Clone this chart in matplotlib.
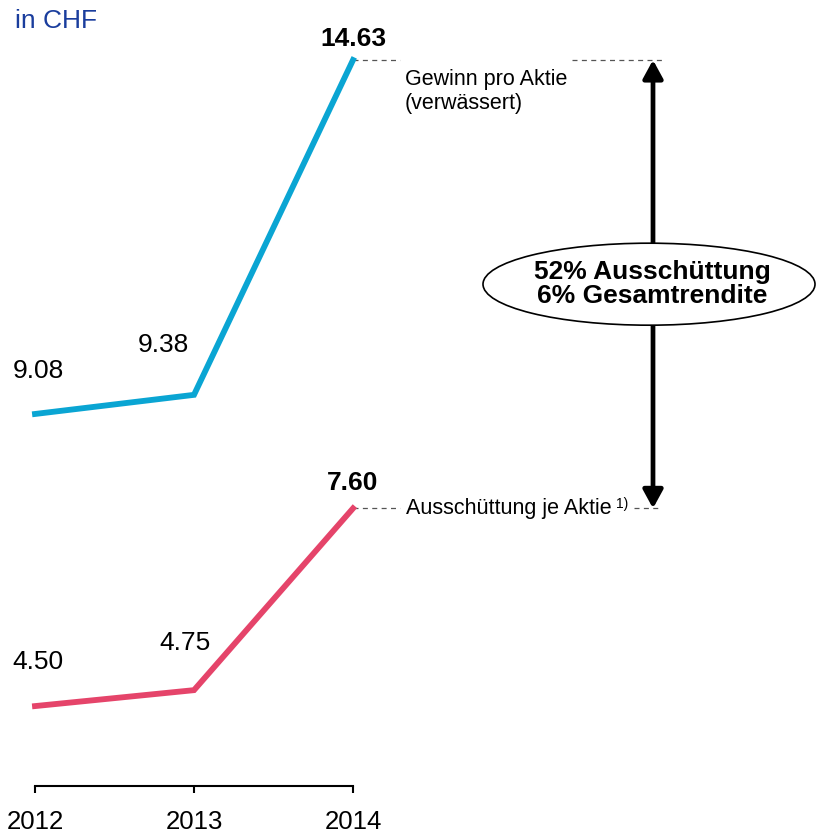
import numpy as np
import matplotlib
matplotlib.use("Agg")
import matplotlib.pyplot as plt
from matplotlib.patches import Ellipse

plt.rcParams['font.family'] = ['Liberation Sans', 'DejaVu Sans']

years = [2012, 2013, 2014]
eps = [9.08, 9.38, 14.63]        # Gewinn pro Aktie (verwässert)
payout = [4.50, 4.75, 7.60]      # Ausschüttung je Aktie
eps_labels = ['9.08', '9.38', '14.63']
payout_labels = ['4.50', '4.75', '7.60']
ellipse_text = '52% Ausschüttung\n6% Gesamtrendite'

blue = '#0aa5d3'
red = '#e5446a'
navy = '#1a3d9d'

W, H = 817, 836
fig = plt.figure(figsize=(W / 100, H / 100), dpi=100)
ax = fig.add_axes([0, 50 / H, 1, 786 / H])

# scale: 159 px per year, 63.78 px per CHF
PXY = 159.0
PXV = 63.78
x0 = 2012 - 35 / PXY
ax.set_xlim(x0, x0 + W / PXY)
ytop = eps[-1] + 60 / PXV
ax.set_ylim(ytop - 786 / PXV, ytop)


def xpx(p):
    return x0 + p / PXY


ax.plot(years, eps, color=blue, lw=4.2, solid_joinstyle='miter', zorder=3)
ax.plot(years, payout, color=red, lw=4.2, solid_joinstyle='miter', zorder=3)

# value labels (offsets in pixels)
eps_off = [(3, 43), (-31, 50), (0, 21)]
pay_off = [(3, 44), (-9, 47), (0, 25)]
for i, y in enumerate(years):
    w = 'bold' if i == 2 else 'normal'
    ax.annotate(eps_labels[i], (y, eps[i]), xytext=eps_off[i], textcoords='offset pixels',
                ha='center', va='center', fontsize=19, fontweight=w)
    ax.annotate(payout_labels[i], (y, payout[i]), xytext=pay_off[i], textcoords='offset pixels',
                ha='center', va='center', fontsize=19, fontweight=w)

# dashed leaders
dash = dict(color='#555555', lw=0.9, ls=(0, (4, 3.5)))
ax.plot([years[-1], xpx(400)], [eps[-1]] * 2, **dash)
ax.plot([xpx(572), xpx(662)], [eps[-1]] * 2, **dash)
ax.plot([years[-1], xpx(400)], [payout[-1]] * 2, **dash)
ax.plot([xpx(634), xpx(662)], [payout[-1]] * 2, **dash)

ax.text(xpx(405), eps[-1] - 9 / PXV, 'Gewinn pro Aktie\n(verwässert)', ha='left', va='top',
        fontsize=15.5, linespacing=1.2)
ax.text(xpx(406), payout[-1], 'Ausschüttung je Aktie', ha='left', va='center', fontsize=15.5)
ax.text(xpx(616), payout[-1] + 4 / PXV, '1)', ha='left', va='center', fontsize=10)

# double arrow between the two 2014 values
ax_x = xpx(653)
ax.annotate('', xy=(ax_x, eps[-1]), xytext=(ax_x, payout[-1]),
            arrowprops=dict(arrowstyle='<|-|>,head_length=0.55,head_width=0.3',
                            mutation_scale=20, lw=3.4, color='black',
                            shrinkA=0, shrinkB=0), zorder=4)

mid = (eps[-1] + payout[-1]) / 2
ax.add_patch(Ellipse((xpx(649), mid), 332 / PXY, 82 / PXV, facecolor='white',
                     edgecolor='black', lw=1.2, zorder=5))
ax.text(xpx(652), mid, ellipse_text, ha='center', va='center', fontsize=19,
        fontweight='bold', linespacing=1.02, zorder=6)

ax.text(15 / W, 1 - 21 / H, 'in CHF', transform=fig.transFigure, ha='left', va='center',
        fontsize=19, color=navy)

# x axis
for s in ['top', 'right', 'left']:
    ax.spines[s].set_visible(False)
ax.spines['bottom'].set_bounds(years[0], years[-1])
ax.spines['bottom'].set_linewidth(1.5)
ax.set_xticks(years)
ax.set_xticklabels([str(y) for y in years])
ax.tick_params(axis='x', direction='out', length=5, width=1.5, labelsize=18.5, pad=12)
ax.set_yticks([])
ax.patch.set_alpha(0)

fig.savefig('out.png', dpi=100)
